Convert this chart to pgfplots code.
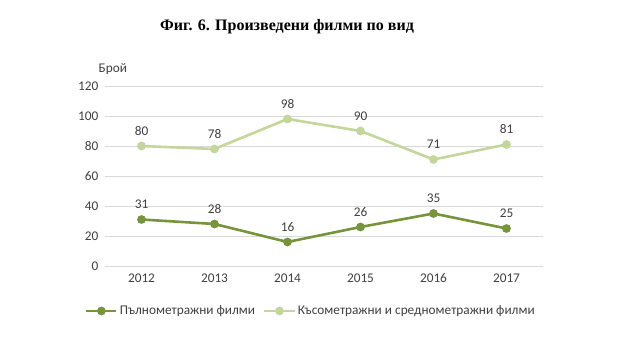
\documentclass[border=0pt]{standalone}
\usepackage{pgfplots}
\pgfplotsset{compat=1.18}
\usepackage{fontspec}
\setmainfont{Carlito}
\newfontfamily\titlefont{Liberation Serif}
\definecolor{darkg}{HTML}{77933C}
\definecolor{lightg}{HTML}{C3D69B}
\definecolor{gridc}{HTML}{D9D9D9}
\definecolor{txt}{HTML}{404040}
\begin{document}
\fontsize{13.3}{16}\selectfont
\begin{tikzpicture}[x=1pt,y=1pt]
\useasboundingbox (0,0) rectangle (638,350);
\node[font=\titlefont\bfseries\fontsize{16}{19}\selectfont] at (287,323) {Фиг. 6. Произведени филми по вид};
\begin{axis}[
  at={(105pt,84pt)}, anchor=south west,
  scale only axis, width=438pt, height=180pt,
  xmin=-0.5, xmax=5.5, ymin=0, ymax=120,
  xtick={0,...,5}, xticklabels={2012,2013,2014,2015,2016,2017},
  ytick={0,20,...,120},
  ymajorgrids, major grid style={gridc, line width=0.8pt},
  axis line style={draw=none},
  tick style={draw=none},
  ticklabel style={font=\fontsize{13.3}{16}\selectfont, text=txt},
  /pgf/number format/assume math mode=true,
  yticklabel style={xshift=-2pt},
  xticklabel style={yshift=-3pt},
  clip=false,
  nodes near coords,
  every node near coord/.append style={font=\fontsize{13.3}{16}\selectfont, text=txt, yshift=5pt},
  legend columns=2,
  legend style={draw=none, fill=none, at={(0.47,-0.25)}, anchor=center,
    font=\fontsize{13.3}{16}\selectfont, text=txt,
    /tikz/every even column/.append style={column sep=6pt}},
  legend image code/.code={\draw[mark repeat=2,mark phase=2] plot coordinates {(0cm,0cm)(0.53cm,0cm)(1.06cm,0cm)};},
]
\addplot[darkg, line width=2.6pt, mark=*, mark size=3pt, mark options={solid}] coordinates {(0,31)(1,28)(2,16)(3,26)(4,35)(5,25)};
\addlegendentry{Пълнометражни филми}
\addplot[lightg, line width=2.6pt, mark=*, mark size=3pt, mark options={solid}] coordinates {(0,80)(1,78)(2,98)(3,90)(4,71)(5,81)};
\addlegendentry{Късометражни и среднометражни филми}
\node[anchor=south west, text=txt, font=\fontsize{13.3}{16}\selectfont] at (axis description cs:-0.025,1.04) {Брой};
\end{axis}
\end{tikzpicture}
\end{document}
